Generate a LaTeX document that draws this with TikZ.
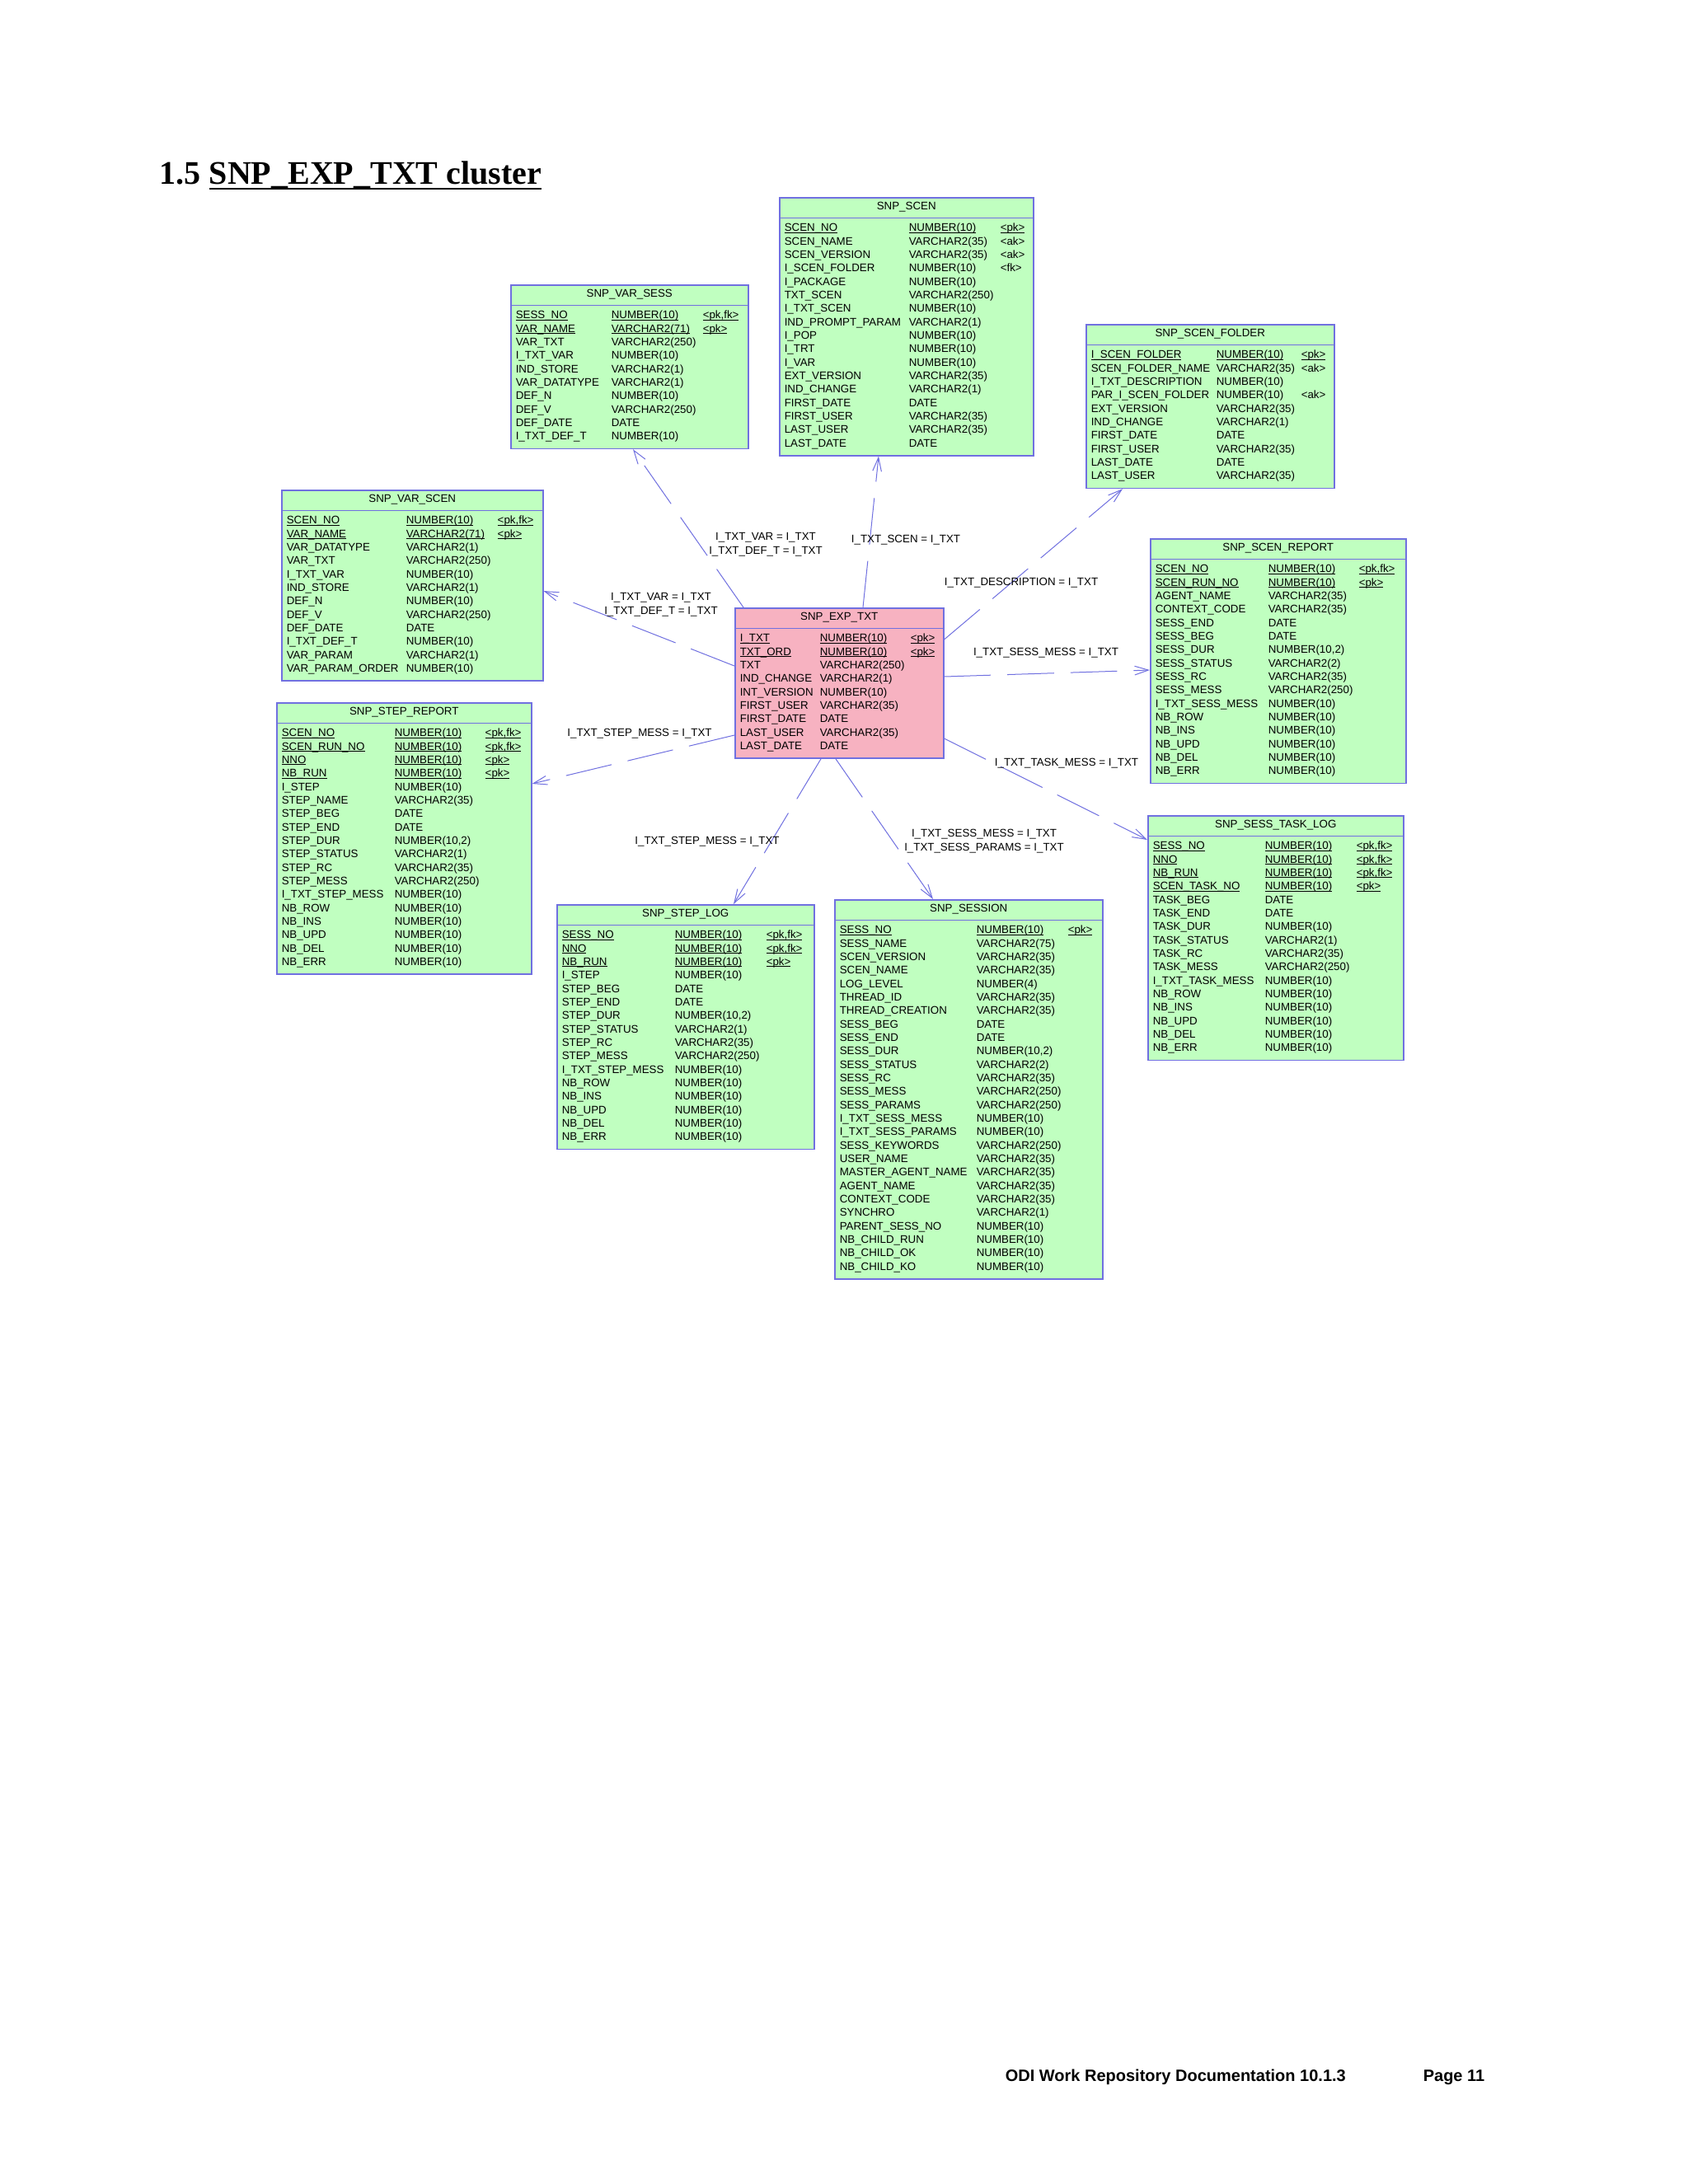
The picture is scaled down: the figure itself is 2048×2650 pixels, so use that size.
\documentclass[tikz,border=0pt]{standalone}
\usepackage{fontspec}
\usepackage{array}
\setmainfont{Liberation Sans}
\newfontfamily\titlefont{Liberation Serif}
\usetikzlibrary{shapes.multipart, arrows.meta, calc}

\definecolor{erline}{RGB}{112,112,224}
\definecolor{ergreen}{RGB}{192,255,192}
\definecolor{erpink}{RGB}{247,178,193}

\newcommand{\tblfont}{\fontsize{4}{4.9}\selectfont}
\newcommand{\pkey}[1]{\setbox0\hbox{#1}\rlap{\rule[-0.55pt]{\wd0}{0.25pt}}\box0}
\setlength{\tabcolsep}{0pt}
\newcommand{\ertable}[5]{%
  \makebox[\dimexpr1.8pt+#2+#3+#4\relax]{\rule[-2.7pt]{0pt}{6.9pt}#1}%
  \nodepart{two}%
  \begin{tabular}{@{\hspace{1.8pt}}w{l}{#2}w{l}{#3}w{l}{#4}@{}}%
  \noalign{\vskip1.3pt}#5\\[1.5pt]%
  \end{tabular}}

\tikzset{
  tbl/.style={rectangle split, rectangle split parts=2, draw=erline, line width=0.45pt,
    fill=ergreen, inner sep=0pt, anchor=north west, font=\tblfont},
  fk/.style={draw=erline, line width=0.3pt, dash pattern=on 17pt off 6pt,
    -{Straight Barb[length=5pt, width=3.2pt]}},
  lbl/.style={inner sep=0pt, font=\fontsize{4}{5.1}\selectfont}
}

\begin{document}
\begin{tikzpicture}[x=0.3pt, y=-0.3pt]
\fill[white] (0,0) rectangle (2048,2650);
\useasboundingbox (0,0) rectangle (2048,2650);

\node[anchor=base west, font=\titlefont\fontsize{12}{14}\selectfont\bfseries] (title) at (182,223) {1.5 \setbox0\hbox{SNP\_EXP\_TXT cluster}\rlap{\rule[-2pt]{\wd0}{0.5pt}}\box0};

\node[tbl] (scen) at (945,239) {\ertable{SNP\_SCEN}{45.3pt}{33.3pt}{12pt}{%
\pkey{SCEN\_NO} & \pkey{NUMBER(10)} & \pkey{<pk>}\\
SCEN\_NAME & VARCHAR2(35) & <ak>\\
SCEN\_VERSION & VARCHAR2(35) & <ak>\\
I\_SCEN\_FOLDER & NUMBER(10) & <fk>\\
I\_PACKAGE & NUMBER(10) &\\
TXT\_SCEN & VARCHAR2(250) &\\
I\_TXT\_SCEN & NUMBER(10) &\\
IND\_PROMPT\_PARAM & VARCHAR2(1) &\\
I\_POP & NUMBER(10) &\\
I\_TRT & NUMBER(10) &\\
I\_VAR & NUMBER(10) &\\
EXT\_VERSION & VARCHAR2(35) &\\
IND\_CHANGE & VARCHAR2(1) &\\
FIRST\_DATE & DATE &\\
FIRST\_USER & VARCHAR2(35) &\\
LAST\_USER & VARCHAR2(35) &\\
LAST\_DATE & DATE &}};

\node[tbl] (varsess) at (619,345) {\ertable{SNP\_VAR\_SESS}{34.8pt}{33.3pt}{16.5pt}{%
\pkey{SESS\_NO} & \pkey{NUMBER(10)} & \pkey{<pk,fk>}\\
\pkey{VAR\_NAME} & \pkey{VARCHAR2(71)} & \pkey{<pk>}\\
VAR\_TXT & VARCHAR2(250) &\\
I\_TXT\_VAR & NUMBER(10) &\\
IND\_STORE & VARCHAR2(1) &\\
VAR\_DATATYPE & VARCHAR2(1) &\\
DEF\_N & NUMBER(10) &\\
DEF\_V & VARCHAR2(250) &\\
DEF\_DATE & DATE &\\
I\_TXT\_DEF\_T & NUMBER(10) &}};

\node[tbl] (scenfolder) at (1317,393) {\ertable{SNP\_SCEN\_FOLDER}{45.6pt}{30.9pt}{12pt}{%
\pkey{I\_SCEN\_FOLDER} & \pkey{NUMBER(10)} & \pkey{<pk>}\\
SCEN\_FOLDER\_NAME & VARCHAR2(35) & <ak>\\
I\_TXT\_DESCRIPTION & NUMBER(10) &\\
PAR\_I\_SCEN\_FOLDER & NUMBER(10) & <ak>\\
EXT\_VERSION & VARCHAR2(35) &\\
IND\_CHANGE & VARCHAR2(1) &\\
FIRST\_DATE & DATE &\\
FIRST\_USER & VARCHAR2(35) &\\
LAST\_DATE & DATE &\\
LAST\_USER & VARCHAR2(35) &}};

\node[tbl] (varscen) at (341,594) {\ertable{SNP\_VAR\_SCEN}{43.5pt}{33.3pt}{16.5pt}{%
\pkey{SCEN\_NO} & \pkey{NUMBER(10)} & \pkey{<pk,fk>}\\
\pkey{VAR\_NAME} & \pkey{VARCHAR2(71)} & \pkey{<pk>}\\
VAR\_DATATYPE & VARCHAR2(1) &\\
VAR\_TXT & VARCHAR2(250) &\\
I\_TXT\_VAR & NUMBER(10) &\\
IND\_STORE & VARCHAR2(1) &\\
DEF\_N & NUMBER(10) &\\
DEF\_V & VARCHAR2(250) &\\
DEF\_DATE & DATE &\\
I\_TXT\_DEF\_T & NUMBER(10) &\\
VAR\_PARAM & VARCHAR2(1) &\\
VAR\_PARAM\_ORDER & NUMBER(10) &}};

\node[tbl, fill=erpink] (exptxt) at (891,737) {\ertable{SNP\_EXP\_TXT}{29.1pt}{33pt}{12pt}{%
\pkey{I\_TXT} & \pkey{NUMBER(10)} & \pkey{<pk>}\\
\pkey{TXT\_ORD} & \pkey{NUMBER(10)} & \pkey{<pk>}\\
TXT & VARCHAR2(250) &\\
IND\_CHANGE & VARCHAR2(1) &\\
INT\_VERSION & NUMBER(10) &\\
FIRST\_USER & VARCHAR2(35) &\\
FIRST\_DATE & DATE &\\
LAST\_USER & VARCHAR2(35) &\\
LAST\_DATE & DATE &}};

\node[tbl] (scenreport) at (1395,653) {\ertable{SNP\_SCEN\_REPORT}{41.1pt}{33pt}{17.1pt}{%
\pkey{SCEN\_NO} & \pkey{NUMBER(10)} & \pkey{<pk,fk>}\\
\pkey{SCEN\_RUN\_NO} & \pkey{NUMBER(10)} & \pkey{<pk>}\\
AGENT\_NAME & VARCHAR2(35) &\\
CONTEXT\_CODE & VARCHAR2(35) &\\
SESS\_END & DATE &\\
SESS\_BEG & DATE &\\
SESS\_DUR & NUMBER(10,2) &\\
SESS\_STATUS & VARCHAR2(2) &\\
SESS\_RC & VARCHAR2(35) &\\
SESS\_MESS & VARCHAR2(250) &\\
I\_TXT\_SESS\_MESS & NUMBER(10) &\\
NB\_ROW & NUMBER(10) &\\
NB\_INS & NUMBER(10) &\\
NB\_UPD & NUMBER(10) &\\
NB\_DEL & NUMBER(10) &\\
NB\_ERR & NUMBER(10) &}};

\node[tbl] (stepreport) at (335,852) {\ertable{SNP\_STEP\_REPORT}{41.1pt}{33pt}{16.8pt}{%
\pkey{SCEN\_NO} & \pkey{NUMBER(10)} & \pkey{<pk,fk>}\\
\pkey{SCEN\_RUN\_NO} & \pkey{NUMBER(10)} & \pkey{<pk,fk>}\\
\pkey{NNO} & \pkey{NUMBER(10)} & \pkey{<pk>}\\
\pkey{NB\_RUN} & \pkey{NUMBER(10)} & \pkey{<pk>}\\
I\_STEP & NUMBER(10) &\\
STEP\_NAME & VARCHAR2(35) &\\
STEP\_BEG & DATE &\\
STEP\_END & DATE &\\
STEP\_DUR & NUMBER(10,2) &\\
STEP\_STATUS & VARCHAR2(1) &\\
STEP\_RC & VARCHAR2(35) &\\
STEP\_MESS & VARCHAR2(250) &\\
I\_TXT\_STEP\_MESS & NUMBER(10) &\\
NB\_ROW & NUMBER(10) &\\
NB\_INS & NUMBER(10) &\\
NB\_UPD & NUMBER(10) &\\
NB\_DEL & NUMBER(10) &\\
NB\_ERR & NUMBER(10) &}};

\node[tbl] (steplog) at (675,1097) {\ertable{SNP\_STEP\_LOG}{41.1pt}{33.3pt}{17.4pt}{%
\pkey{SESS\_NO} & \pkey{NUMBER(10)} & \pkey{<pk,fk>}\\
\pkey{NNO} & \pkey{NUMBER(10)} & \pkey{<pk,fk>}\\
\pkey{NB\_RUN} & \pkey{NUMBER(10)} & \pkey{<pk>}\\
I\_STEP & NUMBER(10) &\\
STEP\_BEG & DATE &\\
STEP\_END & DATE &\\
STEP\_DUR & NUMBER(10,2) &\\
STEP\_STATUS & VARCHAR2(1) &\\
STEP\_RC & VARCHAR2(35) &\\
STEP\_MESS & VARCHAR2(250) &\\
I\_TXT\_STEP\_MESS & NUMBER(10) &\\
NB\_ROW & NUMBER(10) &\\
NB\_INS & NUMBER(10) &\\
NB\_UPD & NUMBER(10) &\\
NB\_DEL & NUMBER(10) &\\
NB\_ERR & NUMBER(10) &}};

\node[tbl] (session) at (1012,1091) {\ertable{SNP\_SESSION}{49.8pt}{33.3pt}{12.6pt}{%
\pkey{SESS\_NO} & \pkey{NUMBER(10)} & \pkey{<pk>}\\
SESS\_NAME & VARCHAR2(75) &\\
SCEN\_VERSION & VARCHAR2(35) &\\
SCEN\_NAME & VARCHAR2(35) &\\
LOG\_LEVEL & NUMBER(4) &\\
THREAD\_ID & VARCHAR2(35) &\\
THREAD\_CREATION & VARCHAR2(35) &\\
SESS\_BEG & DATE &\\
SESS\_END & DATE &\\
SESS\_DUR & NUMBER(10,2) &\\
SESS\_STATUS & VARCHAR2(2) &\\
SESS\_RC & VARCHAR2(35) &\\
SESS\_MESS & VARCHAR2(250) &\\
SESS\_PARAMS & VARCHAR2(250) &\\
I\_TXT\_SESS\_MESS & NUMBER(10) &\\
I\_TXT\_SESS\_PARAMS & NUMBER(10) &\\
SESS\_KEYWORDS & VARCHAR2(250) &\\
USER\_NAME & VARCHAR2(35) &\\
MASTER\_AGENT\_NAME & VARCHAR2(35) &\\
AGENT\_NAME & VARCHAR2(35) &\\
CONTEXT\_CODE & VARCHAR2(35) &\\
SYNCHRO & VARCHAR2(1) &\\
PARENT\_SESS\_NO & NUMBER(10) &\\
NB\_CHILD\_RUN & NUMBER(10) &\\
NB\_CHILD\_OK & NUMBER(10) &\\
NB\_CHILD\_KO & NUMBER(10) &}};

\node[tbl] (sesstasklog) at (1392,989) {\ertable{SNP\_SESS\_TASK\_LOG}{40.8pt}{33.3pt}{17.1pt}{%
\pkey{SESS\_NO} & \pkey{NUMBER(10)} & \pkey{<pk,fk>}\\
\pkey{NNO} & \pkey{NUMBER(10)} & \pkey{<pk,fk>}\\
\pkey{NB\_RUN} & \pkey{NUMBER(10)} & \pkey{<pk,fk>}\\
\pkey{SCEN\_TASK\_NO} & \pkey{NUMBER(10)} & \pkey{<pk>}\\
TASK\_BEG & DATE &\\
TASK\_END & DATE &\\
TASK\_DUR & NUMBER(10) &\\
TASK\_STATUS & VARCHAR2(1) &\\
TASK\_RC & VARCHAR2(35) &\\
TASK\_MESS & VARCHAR2(250) &\\
I\_TXT\_TASK\_MESS & NUMBER(10) &\\
NB\_ROW & NUMBER(10) &\\
NB\_INS & NUMBER(10) &\\
NB\_UPD & NUMBER(10) &\\
NB\_DEL & NUMBER(10) &\\
NB\_ERR & NUMBER(10) &}};

\draw[fk] ($(exptxt.north west)+(11,0)$) -- ($(varsess.south west)+(149,0)$);
\draw[fk] ($(exptxt.north west)+(0,71)$) -- ($(varscen.north east)+(0,123)$);
\draw[fk] ($(exptxt.north west)+(0,155)$) -- ($(stepreport.north east)+(0,99)$);
\draw[fk] ($(exptxt.north west)+(156,0)$) -- ($(scen.south west)+(121,0)$);
\draw[fk] ($(exptxt.north east)+(0,39)$) -- ($(scenfolder.south west)+(45,0)$);
\draw[fk] ($(exptxt.north east)+(0,84)$) -- ($(scenreport.north west)+(0,160)$);
\draw[fk] ($(exptxt.north east)+(0,159)$) -- ($(sesstasklog.north west)+(0,30)$);
\draw[fk] ($(exptxt.south west)+(105,0)$) -- ($(steplog.north west)+(215,0)$);
\draw[fk] ($(exptxt.south west)+(123,0)$) -- ($(session.north west)+(120,0)$);

\node[lbl, align=center] (lblvarsess) at (929,661) {I\_TXT\_VAR = I\_TXT\\I\_TXT\_DEF\_T = I\_TXT};
\node[lbl, align=center] (lblvarscen) at (802,734) {I\_TXT\_VAR = I\_TXT\\I\_TXT\_DEF\_T = I\_TXT};
\node[lbl, anchor=base] (lblstepreport) at (776,893) {I\_TXT\_STEP\_MESS = I\_TXT};
\node[lbl, anchor=base] (lblscen) at (1099,658) {I\_TXT\_SCEN = I\_TXT};
\node[lbl, anchor=base] (lblscenfolder) at (1239,710) {I\_TXT\_DESCRIPTION = I\_TXT};
\node[lbl, anchor=base] (lblscenreport) at (1269,795) {I\_TXT\_SESS\_MESS = I\_TXT};
\node[lbl, anchor=base] (lbltasklog) at (1294,929) {I\_TXT\_TASK\_MESS = I\_TXT};
\node[lbl, anchor=base] (lblsteplog) at (858,1024) {I\_TXT\_STEP\_MESS = I\_TXT};
\node[lbl, align=center] (lblsession) at (1194,1021) {I\_TXT\_SESS\_MESS = I\_TXT\\I\_TXT\_SESS\_PARAMS = I\_TXT};

\node[anchor=base west, font=\fontsize{6}{7}\selectfont\bfseries] (footer) at (1208,2525) {ODI Work Repository Documentation 10.1.3};
\node[anchor=base west, font=\fontsize{6}{7}\selectfont\bfseries] (pagenum) at (1715,2525) {Page 11};
\end{tikzpicture}
\end{document}
